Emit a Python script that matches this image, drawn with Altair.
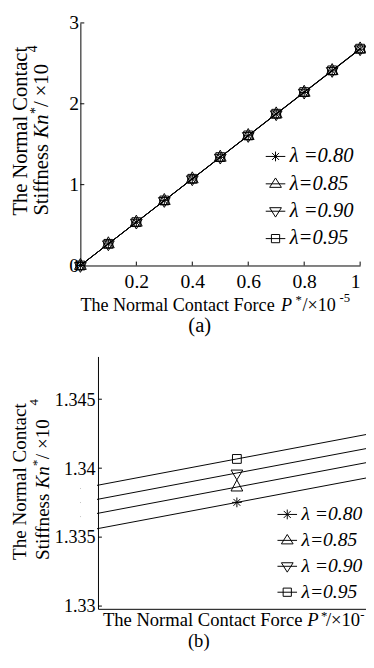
import altair as alt
import pandas as pd

# ---------------- data ----------------
P = [0.0, 0.1, 0.2, 0.3, 0.4, 0.5, 0.6, 0.7, 0.8, 0.9, 1.0]
LAMBDA_LABELS = ["λ =0.80", "λ=0.85", "λ =0.90", "λ=0.95"]
KN_080 = [0.0, 0.26750, 0.53501, 0.80251, 1.07002, 1.33752, 1.60502, 1.87253, 2.14003, 2.40754, 2.67504]
KN_085 = [0.0, 0.26773, 0.53545, 0.80318, 1.07090, 1.33863, 1.60636, 1.87408, 2.14181, 2.40953, 2.67726]
KN_090 = [0.0, 0.26793, 0.53586, 0.80379, 1.07172, 1.33965, 1.60758, 1.87551, 2.14344, 2.41137, 2.67930]
KN_095 = [0.0, 0.26813, 0.53627, 0.80440, 1.07254, 1.34067, 1.60880, 1.87694, 2.14507, 2.41321, 2.68134]

TOP_X_LABELS = [0.2, 0.4, 0.6, 0.8, 1.0]
TOP_X_TICKS = [0.0, 0.2, 0.4, 0.6, 0.8, 1.0]
TOP_Y_TICKS = [0, 1, 2, 3]
BOT_Y_TICKS = [1.33, 1.335, 1.34, 1.345]
TOP_X_DOMAIN = [0, 1]
TOP_Y_DOMAIN = [0, 3]
BOT_X_DOMAIN = [0.49929, 0.50066]
BOT_Y_DOMAIN = [1.3298, 1.3481]

rows = []
for lab, series in zip(LAMBDA_LABELS, [KN_080, KN_085, KN_090, KN_095]):
    for p, k in zip(P, series):
        rows.append({"P": p, "Kn": k, "lam": lab})
df = pd.DataFrame(rows)

FONT = "Liberation Serif"

MARKER_PATHS = [
    "M-1,0H1M0,-1V1M-0.7,-0.7L0.7,0.7M-0.7,0.7L0.7,-0.7",
    "M0,-1.45L1.2,0.8H-1.2Z",
    "M0,1.4L1.2,-0.6H-1.2Z",
    "M-0.9,-0.9H0.9V0.9H-0.9Z",
]
LEGEND_PATHS = [
    "M-1,0H1M0,-0.5V0.5M-0.36,-0.36L0.36,0.36M-0.36,0.36L0.36,-0.36",
    "M-1,0H1M0,-0.6L0.6,0.36H-0.6Z",
    "M-1,0H1M0,0.6L0.6,-0.36H-0.6Z",
    "M-1,0H1M-0.42,-0.42H0.42V0.42H-0.42Z",
]

# one view; each panel gets its own pixel range inside it
VIEW_W, VIEW_H = 292, 599
TOP_W, TOP_H = 286, 248
BOT_X0, BOT_Y0 = 18, 341


def txt(s, x, y, size, angle=0, italic=False, align="left", baseline="alphabetic"):
    kw = dict(text=s, font=FONT, fontSize=size, color="black", align=align,
              baseline=baseline, angle=angle)
    if italic:
        kw["fontStyle"] = "italic"
    return alt.Chart(alt.Data(values=[{}])).mark_text(**kw).encode(
        x=alt.value(x), y=alt.value(y))


def axis(**kw):
    base = dict(ticks=False, domainColor="black", domainWidth=1, labelFont=FONT,
                labelColor="black", grid=False, title=None)
    base.update(kw)
    return alt.Axis(**base)


def panel(xs, ys, xaxis, yaxis, ytick_vals, ytick_x, xtick_vals, xtick_y,
          legend_x, legend_y, row_pad, label_size, clip, extra):
    base = alt.Chart(df)
    X = alt.X("P:Q", scale=xs, axis=xaxis)
    Y = alt.Y("Kn:Q", scale=ys, axis=yaxis)
    lines = base.mark_line(color="black", strokeWidth=1, clip=clip).encode(
        x=X, y=Y, detail="lam:N")
    pts = base.mark_point(filled=False, color="black", strokeWidth=1, opacity=1,
                          size=100, clip=clip).encode(
        x=X, y=Y,
        shape=alt.Shape("lam:N", scale=alt.Scale(domain=LAMBDA_LABELS, range=MARKER_PATHS),
                        legend=None))
    leg = base.transform_filter("false").mark_point(
        filled=False, color="black", strokeWidth=1, opacity=1).encode(
        x=X, y=Y,
        shape=alt.Shape("lam:N", scale=alt.Scale(domain=LAMBDA_LABELS, range=LEGEND_PATHS),
                        legend=alt.Legend(
                            title=None, orient="none", legendX=legend_x, legendY=legend_y,
                            direction="vertical", symbolSize=400, symbolStrokeWidth=1,
                            symbolStrokeColor="black", symbolFillColor="transparent",
                            symbolOpacity=1, labelFont=FONT, labelFontSize=label_size,
                            labelFontStyle="italic", labelColor="black", labelOffset=4,
                            rowPadding=row_pad, padding=0, symbolOffset=0, labelLimit=200)))
    layers = [lines, pts] + extra + [leg]
    layers.append(alt.Chart(pd.DataFrame({"Kn": ytick_vals})).mark_rule(
        color="black", strokeWidth=1).encode(
        y=Y, x=alt.value(ytick_x), x2=alt.value(ytick_x + 4)))
    if xtick_vals:
        layers.append(alt.Chart(pd.DataFrame({"P": xtick_vals})).mark_rule(
            color="black", strokeWidth=1).encode(
            x=X, y=alt.value(xtick_y), y2=alt.value(xtick_y - 4)))
    return alt.layer(*layers).resolve_scale(shape="independent").resolve_legend(shape="independent")


# ---------- top panel (a) ----------
xs_t = alt.Scale(domain=TOP_X_DOMAIN, range=[0, TOP_W], nice=False, zero=False)
ys_t = alt.Scale(domain=TOP_Y_DOMAIN, range=[TOP_H, 0], nice=False, zero=False)
top = panel(
    xs_t, ys_t,
    axis(orient="bottom", offset=TOP_H - VIEW_H, values=TOP_X_LABELS, format="~g",
         labelFontSize=20, labelPadding=7),
    axis(orient="left", values=TOP_Y_TICKS, format="~g", labelFontSize=20, labelPadding=2),
    TOP_Y_TICKS, 0, TOP_X_TICKS, TOP_H, 189, 126, 6, 21, False, [])

# ---------- bottom panel (b) ----------
xs_b = alt.Scale(domain=BOT_X_DOMAIN, range=[BOT_X0, VIEW_W], nice=False, zero=False)
ys_b = alt.Scale(domain=BOT_Y_DOMAIN, range=[VIEW_H, BOT_Y0], nice=False, zero=False)
mask = alt.Chart(alt.Data(values=[{}])).mark_rect(color="white").encode(
    x=alt.value(0), x2=alt.value(BOT_X0 - 1), y=alt.value(BOT_Y0 - 10), y2=alt.value(VIEW_H))
bot = panel(
    xs_b, ys_b,
    axis(orient="bottom", labels=False),
    axis(orient="left", offset=-BOT_X0, zindex=1, values=BOT_Y_TICKS, format="~g",
         labelFontSize=18.5, labelPadding=3),
    BOT_Y_TICKS, BOT_X0, None, 0, 201, 492, 5.5, 20, True, [mask])

texts = [
    # (a) titles
    txt("The Normal Contact Force ", 0, 294, 18.5),
    txt("P", 205, 294, 18.5, italic=True),
    txt("*", 220, 287, 13),
    txt("/×10", 227, 294, 18.5),
    txt("-5", 265, 285, 13),
    txt("(a)", 122, 316, 21, align="center"),
    txt("The Normal Contact", -55, 197, 21, angle=270),
    txt("Stiffness ", -33, 197, 21, angle=270),
    txt("Kn", -33, 118, 21, angle=270, italic=True),
    txt("*", -41, 93, 14, angle=270),
    txt(" / ×10", -33, 86, 21, angle=270),
    txt("4", -44, 30, 14, angle=270),
    # (b) titles
    txt("The Normal Contact Force ", 23, 617, 19),
    txt("P", 232, 617, 19, italic=True),
    txt("*", 246, 610, 13),
    txt("/×10", 251, 617, 19),
    txt("-", 286, 609, 13),
    txt("(b)", 121, 638, 19, align="center"),
    txt("The Normal Contact", -56, 549, 19.5, angle=270),
    txt("Stiffness ", -32, 549, 19.5, angle=270),
    txt("Kn", -32, 476, 19.5, angle=270, italic=True),
    txt("*", -40, 453, 13, angle=270),
    txt(" / ×10", -32, 446, 19.5, angle=270),
    txt("4", -43, 391, 13, angle=270),
]

chart = alt.layer(top, bot, *texts).resolve_scale(
    x="independent", y="independent", shape="independent").resolve_axis(
    x="independent", y="independent").resolve_legend(shape="independent").properties(
    width=VIEW_W, height=VIEW_H,
    autosize=alt.AutoSizeParams(type="none"),
    padding={"left": 74, "top": 8, "right": 0, "bottom": 43},
).configure_view(stroke=None)

chart.save("out.html", embed_options={"renderer": "svg", "actions": False})
